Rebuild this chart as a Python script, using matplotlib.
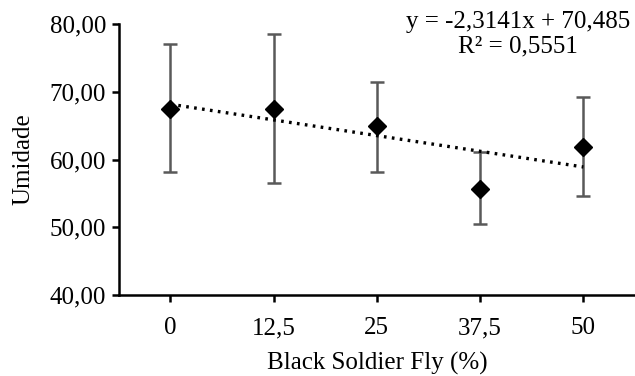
import numpy as np
import matplotlib
matplotlib.use('Agg')
import matplotlib.pyplot as plt
from matplotlib.ticker import FuncFormatter

# dados
niveis = ['0', '12,5', '25', '37,5', '50']
umidade = [67.5, 67.5, 64.9, 55.6, 61.8]
erro_sup = [77.05, 78.5, 71.5, 61.15, 69.2]
erro_inf = [58.2, 56.5, 58.2, 50.5, 54.7]
coef_a = -2.3141
coef_b = 70.485

plt.rcParams['font.family'] = ['Liberation Serif', 'DejaVu Serif']

x = np.arange(1, len(niveis) + 1)
y = np.array(umidade)
yerr = [y - np.array(erro_inf), np.array(erro_sup) - y]

fig = plt.figure(figsize=(6.35, 3.76), dpi=100)
ax = fig.add_axes([0.187, 0.215, 0.813, 0.721])

ax.errorbar(x, y, yerr=yerr, fmt='none', ecolor='#595959', elinewidth=1.8,
            capsize=5, capthick=1.8, zorder=2)
ax.plot(x, coef_a * x + coef_b, linestyle=(0, (0.8, 1.6)), color='black',
        linewidth=2.4, zorder=3)
ax.plot(x, y, linestyle='none', marker='D', markersize=9, color='black', zorder=4)

ax.set_xlim(0.5, 5.5)
ax.set_ylim(40, 80)
ax.set_yticks([40, 50, 60, 70, 80])
ax.yaxis.set_major_formatter(FuncFormatter(lambda v, p: f'{v:.2f}'.replace('.', ',')))
ax.set_xticks(x)
ax.set_xticklabels(niveis)

for s in ['top', 'right']:
    ax.spines[s].set_visible(False)
for s in ['left', 'bottom']:
    ax.spines[s].set_linewidth(1.8)
ax.tick_params(axis='both', direction='out', width=1.8, length=5, labelsize=18,
               colors='black')
ax.tick_params(axis='y', pad=4)
ax.tick_params(axis='x', pad=11)

ax.set_ylabel('Umidade', fontsize=18, labelpad=11)
ax.set_xlabel('Black Soldier Fly (%)', fontsize=18, labelpad=9)

fig.text(0.816, 0.97, 'y = -2,3141x + 70,485\nR² = 0,5551', ha='center', va='top',
         fontsize=18, linespacing=1.15)

fig.savefig('out.png', dpi=100)
